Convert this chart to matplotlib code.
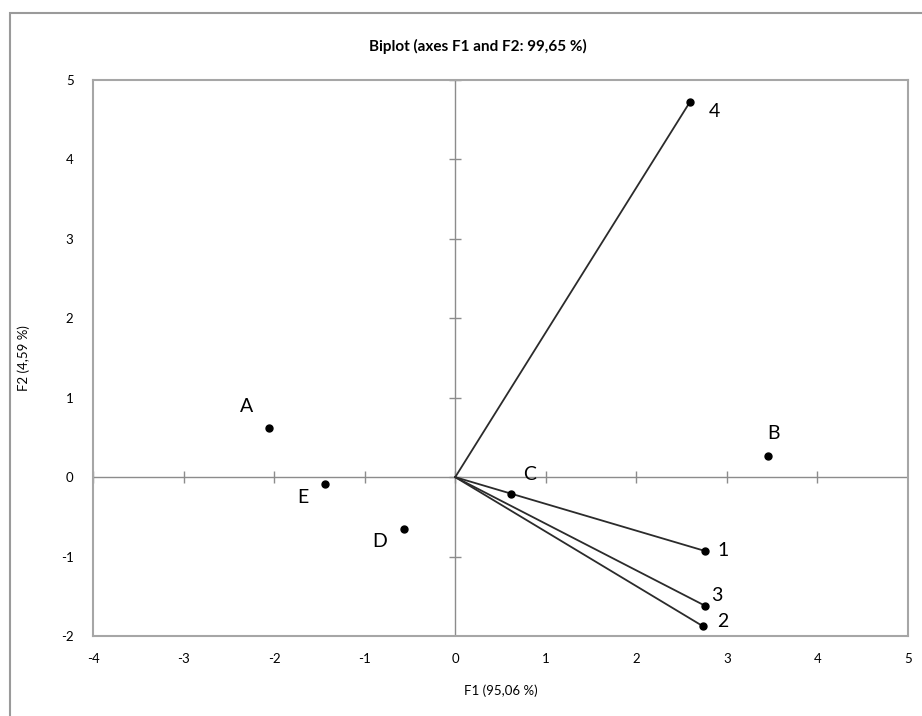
import matplotlib
matplotlib.use("Agg")
import matplotlib.pyplot as plt
from matplotlib.patches import Rectangle

plt.rcParams['font.family'] = ['Lato', 'DejaVu Sans']
plt.rcParams['axes.unicode_minus'] = False

# observations (points only)
obs_names = ['A', 'B', 'C', 'D', 'E']
obs_x = [-2.06, 3.45, 0.62, -0.57, -1.44]
obs_y = [0.62, 0.26, -0.21, -0.65, -0.09]
obs_offsets = [(-22, 21), (6, 23), (18, 19), (-24, -13), (-22, -13)]

# variables (vectors from origin)
var_names = ['1', '2', '3', '4']
var_x = [2.76, 2.74, 2.76, 2.59]
var_y = [-0.93, -1.88, -1.62, 4.72]
var_offsets = [(18, 1), (19, 5), (12, 10), (25, -9)]

xticks = [-4, -3, -2, -1, 0, 1, 2, 3, 4, 5]
yticks = [-2, -1, 0, 1, 2, 3, 4, 5]

W, H = 922, 716
fig = plt.figure(figsize=(W / 100, H / 100), dpi=100)
ax = fig.add_axes([93 / W, 1 - 636 / H, (908 - 93) / W, (636 - 80) / H])

# outer chart frame
fig.patches.append(Rectangle((10 / W, -0.2), 2, 1.2 - 13 / H, transform=fig.transFigure,
                             fill=False, edgecolor='#9a9a9a', lw=1.5))

ax.set_xlim(-4, 5)
ax.set_ylim(-2, 5)

for s in ax.spines.values():
    s.set_color('#a6a6a6')
    s.set_linewidth(1.5)

ax.set_xticks(xticks)
ax.set_yticks(yticks)
ax.tick_params(length=0, labelsize=9.5)
ax.tick_params(axis='x', pad=12)
ax.tick_params(axis='y', pad=14)

# zero axes with cross tick marks
ax.axhline(0, color='#8c8c8c', lw=1, zorder=1)
ax.axvline(0, color='#8c8c8c', lw=1, zorder=1)
ax.plot(xticks, [0] * len(xticks), ls='none', marker='|', ms=8, mew=1, color='#8c8c8c', zorder=1)
ax.plot([0] * len(yticks), yticks, ls='none', marker='_', ms=8, mew=1, color='#8c8c8c', zorder=1)

# vectors
for x, y in zip(var_x, var_y):
    ax.plot([0, x], [0, y], color='#2b2b2b', lw=1.3, zorder=2)
ax.plot(var_x, var_y, 'o', color='black', ms=5, zorder=3)
for n, x, y, off in zip(var_names, var_x, var_y, var_offsets):
    ax.annotate(n, (x, y), xytext=off, textcoords='offset pixels',
                ha='center', va='center', fontsize=14)

# observations
ax.plot(obs_x, obs_y, 'o', color='black', ms=5, zorder=3)
for n, x, y, off in zip(obs_names, obs_x, obs_y, obs_offsets):
    ax.annotate(n, (x, y), xytext=off, textcoords='offset pixels',
                ha='center', va='center', fontsize=14)

ax.set_xlabel('F1 (95,06 %)', fontsize=9.5, labelpad=14)
ax.set_ylabel('F2 (4,59 %)', fontsize=9.5, labelpad=22)
fig.text(478 / W, 1 - 46 / H, 'Biplot (axes F1 and F2: 99,65 %)', ha='center', va='center',
         fontsize=11, fontweight='bold')

fig.savefig('out.png', dpi=100)
